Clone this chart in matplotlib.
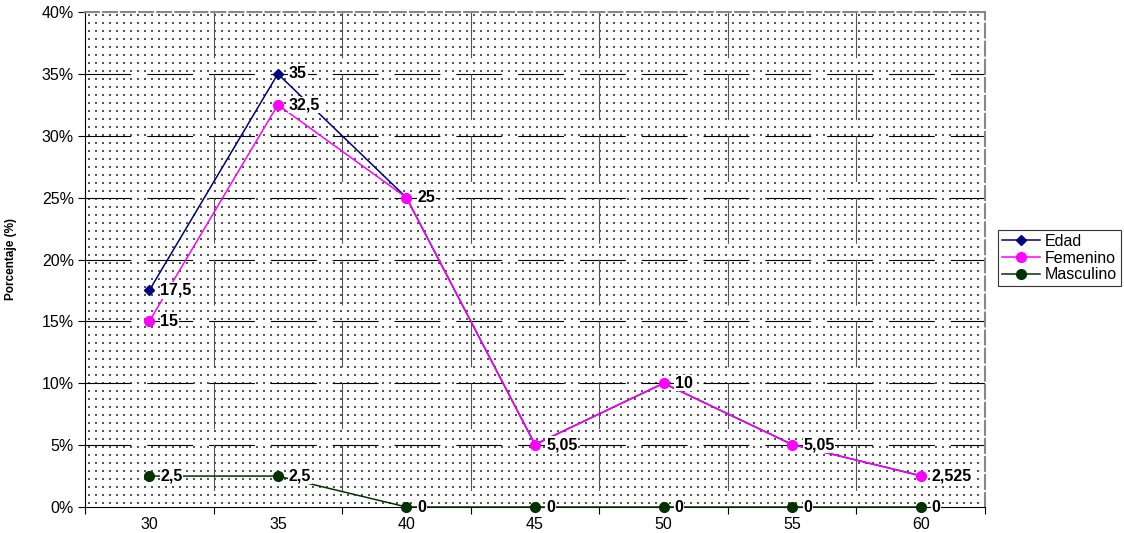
import matplotlib
matplotlib.use("Agg")
import matplotlib.pyplot as plt
import matplotlib.transforms as mtransforms
import numpy as np

plt.rcParams["font.family"] = ["Liberation Sans", "DejaVu Sans"]
plt.rcParams["lines.scale_dashes"] = False

# data
edades = ["30", "35", "40", "45", "50", "55", "60"]
edad = [17.5, 35, 25, 5.05, 10, 5.05, 2.525]
femenino = [15, 32.5, 25, 5.05, 10, 5.05, 2.525]
masculino = [2.5, 2.5, 0, 0, 0, 0, 0]
y_ticks = [0, 5, 10, 15, 20, 25, 30, 35, 40]


def fmt(v):
    s = f"{v:g}"
    return s.replace(".", ",")


W, H = 1124, 533
fig = plt.figure(figsize=(W / 100, H / 100), dpi=100)
ax = fig.add_axes([85 / W, 1 - 507 / H, 900 / W, 495 / H])

n = len(edades)
xs = np.arange(n)
ax.set_xlim(-0.5, n - 0.5)
ax.set_ylim(0, 40)

# dotted background pattern (axes coordinates, whole pixel steps)
gx = np.arange(4, 900, 7) / 900
gy = np.arange(4, 495, 8) / 495
mx, my = np.meshgrid(gx, gy)
ax.scatter(mx.ravel(), my.ravel(), s=2.0, c="#555555", marker="s",
           linewidths=0, transform=ax.transAxes, zorder=0)

dash = (0, (33, 11.5))
for t in y_ticks[1:-1]:
    ax.axhline(t, color="black", lw=0.8, ls=dash, zorder=1)
trans = mtransforms.blended_transform_factory(ax.transData, ax.transAxes)
for b in np.arange(0.5, n - 1, 1.0):
    ax.plot([b, b], [1, 0], color="#555555", lw=0.8, ls=dash,
            transform=trans, zorder=1)

# series
ax.plot(xs, edad, color="#000080", lw=1.1, marker="D", ms=5.5,
        label="Edad", zorder=3)
ax.plot(xs, femenino, color="#ff00ff", lw=1.1, marker="o", ms=7,
        label="Femenino", zorder=4)
ax.plot(xs, masculino, color="#003300", lw=1.1, marker="o", ms=7,
        label="Masculino", zorder=5, clip_on=False)

# value labels
box = dict(facecolor="white", edgecolor="none", pad=0.5)
for series in (edad, femenino, masculino):
    for x, v in zip(xs, series):
        ax.annotate(fmt(v), (x, v), xytext=(8, 0), textcoords="offset points",
                    ha="left", va="center", fontsize=11.5, fontweight="bold",
                    bbox=box, zorder=6)

# axes styling
ax.set_yticks(y_ticks)
ax.set_yticklabels([f"{t}%" for t in y_ticks], fontsize=11.5)
ax.set_xticks(xs)
ax.set_xticklabels(edades, fontsize=11.5)
ax.set_xticks(np.arange(-0.5, n, 1.0), minor=True)
ax.tick_params(axis="x", which="major", length=0, pad=7)
ax.tick_params(axis="x", which="minor", length=5, width=0.8, direction="out")
ax.tick_params(axis="y", length=5, width=0.8, direction="out", pad=3)

for side in ("top", "right"):
    ax.spines[side].set_color("#888888")
    ax.spines[side].set_linestyle((0, (10, 3)))
    ax.spines[side].set_linewidth(1.5)
for side in ("left", "bottom"):
    ax.spines[side].set_color("black")
    ax.spines[side].set_linewidth(0.8)

ax.set_ylabel("Porcentaje (%)", fontsize=8.5, fontweight="bold")
ax.yaxis.set_label_coords((17 - 85) / 900, 0.5)

leg = fig.legend(loc="upper left", bbox_to_anchor=(998 / W, 1 - 230 / H),
                 fontsize=11.5, frameon=True, fancybox=False,
                 edgecolor="black", handlelength=2.4, borderpad=0.25,
                 labelspacing=0.1, handletextpad=0.3, borderaxespad=0)
leg.get_frame().set_linewidth(0.8)

fig.savefig("out.png", dpi=100)
